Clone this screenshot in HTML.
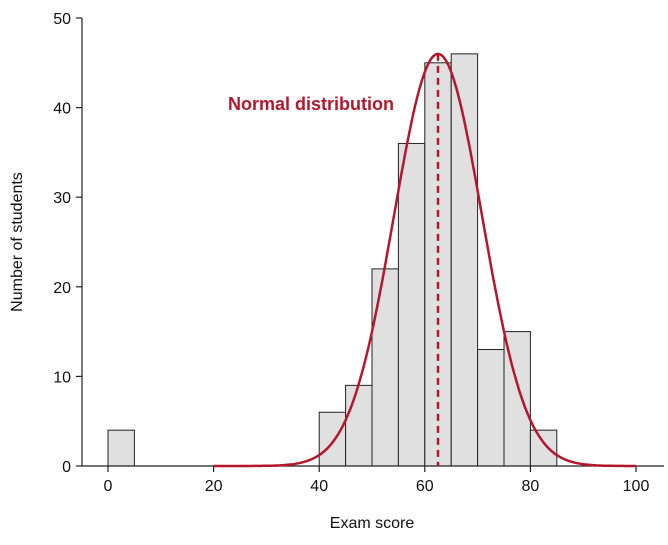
<!DOCTYPE html>
<html><head><meta charset="utf-8"><style>
body{margin:0;background:#fff;}
svg text{font-family:"Liberation Sans",Arial,sans-serif;}
</style></head><body>
<svg id="s" width="668" height="540" xmlns="http://www.w3.org/2000/svg">
<g id="bars" fill="#e0e0e0" stroke="#222" stroke-width="1"></g>
<g stroke="#222" stroke-width="1.2" fill="none">
<line x1="82" y1="18" x2="82" y2="466"/>
<line x1="82" y1="466" x2="664" y2="466"/>
</g>
<g id="ticks" stroke="#222" stroke-width="1.2"></g>
<g id="labels" font-size="16" fill="#111"></g>
<path id="curve" fill="none" stroke="#b5172b" stroke-width="2.5"/>
<line id="dash" stroke="#b5172b" stroke-width="2.5" stroke-dasharray="7,5"/>
<text x="228" y="110" font-size="18" font-weight="bold" fill="#b5172b">Normal distribution</text>
<text x="372" y="528" font-size="16" text-anchor="middle" fill="#111">Exam score</text>
<text transform="translate(22,242) rotate(-90)" font-size="16" text-anchor="middle" fill="#111">Number of students</text>
</svg>
<script>
var X=v=>108+v*5.28, Y=v=>466-v*8.96, ns="http://www.w3.org/2000/svg";
function el(p,t,a){var e=document.createElementNS(ns,t);for(var k in a)e.setAttribute(k,a[k]);p.appendChild(e);return e;}
var bars=[[0,4],[40,6],[45,9],[50,22],[55,36],[60,45],[65,46],[70,13],[75,15],[80,4]];
var bg=document.getElementById('bars');
bars.forEach(b=>el(bg,'rect',{x:X(b[0]),y:Y(b[1]),width:5*5.28,height:b[1]*8.96}));
var tg=document.getElementById('ticks'),lg=document.getElementById('labels');
for(var v=0;v<=100;v+=20){el(tg,'line',{x1:X(v),y1:466,x2:X(v),y2:472});var t=el(lg,'text',{x:X(v),y:491,'text-anchor':'middle'});t.textContent=v;}
for(var v=0;v<=50;v+=10){el(tg,'line',{x1:76,y1:Y(v),x2:82,y2:Y(v)});var t=el(lg,'text',{x:71,y:Y(v)+6,'text-anchor':'end'});t.textContent=v;}
var d='',m=62.5,s=8.35;
for(var v=20;v<=100;v+=0.5){var y=46*Math.exp(-(v-m)*(v-m)/(2*s*s));d+=(v==20?'M':'L')+X(v).toFixed(1)+','+Y(y).toFixed(1);}
document.getElementById('curve').setAttribute('d',d);
var dl=document.getElementById('dash');dl.setAttribute('x1',X(m));dl.setAttribute('x2',X(m));dl.setAttribute('y1',Y(46));dl.setAttribute('y2',466);
</script>
</body></html>
